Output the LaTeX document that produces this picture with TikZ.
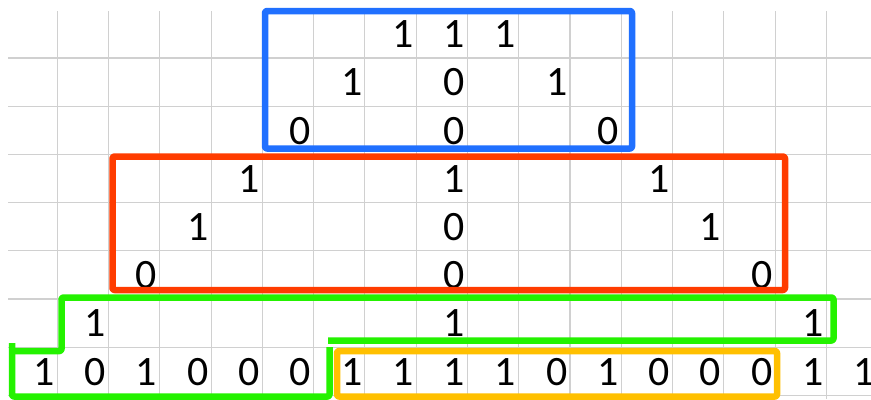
\documentclass[tikz,border=0pt]{standalone}
\usepackage{fontspec}
\setmainfont{Carlito}
\definecolor{gridgray}{RGB}{208,208,208}
\definecolor{boxblue}{RGB}{32,112,255}
\definecolor{boxred}{RGB}{255,60,0}
\definecolor{boxgreen}{RGB}{36,242,0}
\definecolor{boxorange}{RGB}{255,192,0}
\begin{document}
\begin{tikzpicture}[x=1bp,y=-1bp,
  gridline/.style={draw=gridgray,line width=1.1bp},
  frame/.style={line width=6.5bp,line join=round,rounded corners=2bp},
  digit/.style={anchor=base east,inner sep=0pt,font=\fontsize{42}{42}\selectfont}]
\useasboundingbox (0,0) rectangle (871,399);
\fill[white] (0,0) rectangle (871,399);
% grid
\foreach \k in {0,...,15}
  \draw[gridline] ({57.3+51.27*\k},11) -- ({57.3+51.27*\k},399);
\foreach \j in {0,...,7}
  \draw[gridline] (8,{58+48.2*\j}) -- (871,{58+48.2*\j});
% digits: row / cell / value
\foreach \r/\c/\v [count=\n] in {
  0/7/1,0/8/1,0/9/1,
  1/6/1,1/8/0,1/10/1,
  2/5/0,2/8/0,2/11/0,
  3/4/1,3/8/1,3/12/1,
  4/3/1,4/8/0,4/13/1,
  5/2/0,5/8/0,5/14/0,
  6/1/1,6/8/1,6/15/1,
  7/0/1,7/1/0,7/2/1,7/3/0,7/4/0,7/5/0,7/6/1,7/7/1,7/8/1,7/9/1,
  7/10/0,7/11/1,7/12/0,7/13/0,7/14/0,7/15/1,7/16/1}
  \node[digit] (d\n) at ({57.3+51.27*\c-2.5},{58+48.2*\r-10.4}) {\v};
% frames
\draw[frame,boxblue] (265,11) rectangle (632,148.5);
\draw[frame,boxred] (112.5,156.5) rectangle (785,290);
\draw[frame,boxorange] (337,351) rectangle (777,396.5);
\draw[frame,boxgreen] (12,343) -- (12,396.5) -- (329.5,396.5) -- (329.5,347);
\draw[frame,boxgreen] (12,351) -- (61.5,351) -- (61.5,297.5) -- (833.5,297.5) -- (833.5,340.5) -- (328,340.5);
\end{tikzpicture}
\end{document}
